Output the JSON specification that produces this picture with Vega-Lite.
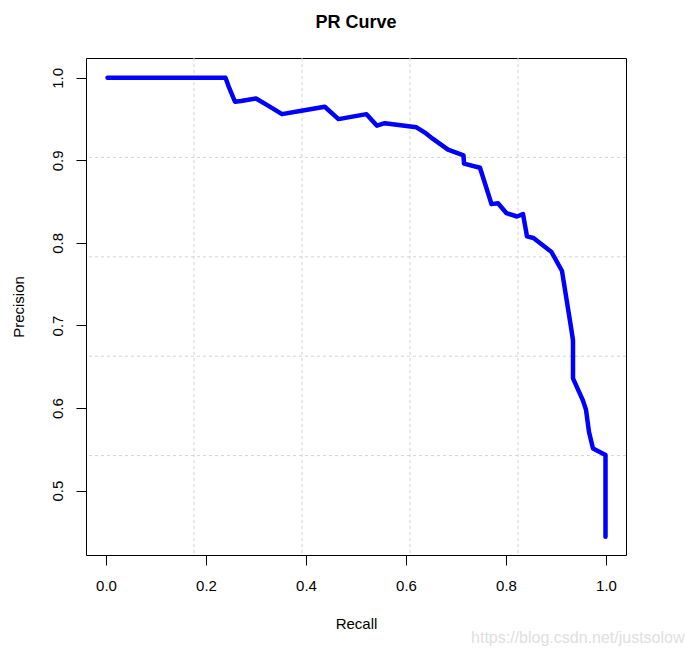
{
  "$schema": "https://vega.github.io/schema/vega-lite/v6.json",
  "autosize": {"type": "none"},
  "padding": {"left": 86, "top": 58, "right": 67, "bottom": 101},
  "width": 540,
  "height": 497,
  "background": "white",
  "title": {
    "text": "PR Curve",
    "font": "Liberation Sans",
    "fontSize": 18,
    "fontWeight": "bold",
    "color": "black",
    "anchor": "middle",
    "baseline": "alphabetic",
    "offset": 12
  },
  "config": {
    "view": {"stroke": "black", "strokeWidth": 1},
    "axis": {
      "grid": false,
      "domain": false,
      "ticks": true,
      "tickColor": "black",
      "tickSize": 10,
      "tickWidth": 1,
      "labelFont": "Liberation Sans",
      "labelFontSize": 15,
      "labelColor": "black",
      "titleFont": "Liberation Sans",
      "titleFontSize": 15,
      "titleFontWeight": "normal",
      "titleColor": "black"
    }
  },
  "layer": [
    {
      "data": {"values": [{"recall": 0.176}, {"recall": 0.392}, {"recall": 0.608}, {"recall": 0.824}]},
      "mark": {"type": "rule", "color": "#d3d3d3", "strokeWidth": 1, "strokeDash": [3, 3]},
      "encoding": {
        "x": {"field": "recall", "type": "quantitative", "scale": {"domain": [-0.04, 1.04], "nice": false, "zero": false}, "title": "Recall"}
      }
    },
    {
      "data": {"values": [{"precision": 0.5424}, {"precision": 0.6628}, {"precision": 0.7832}, {"precision": 0.9036}]},
      "mark": {"type": "rule", "color": "#d3d3d3", "strokeWidth": 1, "strokeDash": [3, 3]},
      "encoding": {
        "y": {"field": "precision", "type": "quantitative", "scale": {"domain": [0.422, 1.024], "nice": false, "zero": false}, "title": "Precision"}
      }
    },
    {
      "data": {"values": [
        {"i": 1, "recall": 0.003, "precision": 1.000},
        {"i": 2, "recall": 0.239, "precision": 1.000},
        {"i": 3, "recall": 0.245, "precision": 0.990},
        {"i": 4, "recall": 0.258, "precision": 0.971},
        {"i": 5, "recall": 0.270, "precision": 0.972},
        {"i": 6, "recall": 0.300, "precision": 0.975},
        {"i": 7, "recall": 0.325, "precision": 0.966},
        {"i": 8, "recall": 0.352, "precision": 0.956},
        {"i": 9, "recall": 0.391, "precision": 0.960},
        {"i": 10, "recall": 0.4375, "precision": 0.965},
        {"i": 11, "recall": 0.465, "precision": 0.950},
        {"i": 12, "recall": 0.521, "precision": 0.956},
        {"i": 13, "recall": 0.542, "precision": 0.942},
        {"i": 14, "recall": 0.5575, "precision": 0.945},
        {"i": 15, "recall": 0.621, "precision": 0.940},
        {"i": 16, "recall": 0.637, "precision": 0.934},
        {"i": 17, "recall": 0.654, "precision": 0.926},
        {"i": 18, "recall": 0.684, "precision": 0.913},
        {"i": 19, "recall": 0.715, "precision": 0.906},
        {"i": 20, "recall": 0.716, "precision": 0.896},
        {"i": 21, "recall": 0.748, "precision": 0.891},
        {"i": 22, "recall": 0.771, "precision": 0.847},
        {"i": 23, "recall": 0.784, "precision": 0.848},
        {"i": 24, "recall": 0.801, "precision": 0.836},
        {"i": 25, "recall": 0.822, "precision": 0.832},
        {"i": 26, "recall": 0.834, "precision": 0.835},
        {"i": 27, "recall": 0.842, "precision": 0.808},
        {"i": 28, "recall": 0.855, "precision": 0.806},
        {"i": 29, "recall": 0.891, "precision": 0.789},
        {"i": 30, "recall": 0.912, "precision": 0.766},
        {"i": 31, "recall": 0.931, "precision": 0.694},
        {"i": 32, "recall": 0.934, "precision": 0.682},
        {"i": 33, "recall": 0.934, "precision": 0.636},
        {"i": 34, "recall": 0.954, "precision": 0.609},
        {"i": 35, "recall": 0.960, "precision": 0.598},
        {"i": 36, "recall": 0.966, "precision": 0.571},
        {"i": 37, "recall": 0.974, "precision": 0.551},
        {"i": 38, "recall": 0.999, "precision": 0.543},
        {"i": 39, "recall": 0.999, "precision": 0.444}
      ]},
      "mark": {"type": "line", "color": "#0000ff", "strokeWidth": 4.5, "strokeCap": "round", "strokeJoin": "round"},
      "encoding": {
        "x": {
          "field": "recall", "type": "quantitative",
          "scale": {"domain": [-0.04, 1.04], "nice": false, "zero": false},
          "title": "Recall",
          "axis": {
            "values": [0, 0.2, 0.4, 0.6, 0.8, 1.0],
            "format": ".1f",
            "labelPadding": 13,
            "labelBaseline": "top",
            "titleX": 270,
            "titleY": 68,
            "titleBaseline": "middle"
          }
        },
        "y": {
          "field": "precision", "type": "quantitative",
          "scale": {"domain": [0.422, 1.024], "nice": false, "zero": false},
          "title": "Precision",
          "axis": {
            "values": [0.5, 0.6, 0.7, 0.8, 0.9, 1.0],
            "format": ".1f",
            "labelAngle": -90,
            "labelAlign": "center",
            "labelBaseline": "alphabetic",
            "labelPadding": 14,
            "titleX": -68,
            "titleY": 248.5,
            "titleBaseline": "middle"
          }
        },
        "order": {"field": "i", "type": "quantitative"}
      }
    },
    {
      "data": {"values": [{"label": "https://blog.csdn.net/justsolow"}]},
      "mark": {"type": "text", "font": "Liberation Sans", "fontSize": 16, "color": "#e0e0e0", "align": "right", "baseline": "middle"},
      "encoding": {
        "x": {"datum": 1.157, "type": "quantitative"},
        "y": {"datum": 0.321, "type": "quantitative"},
        "text": {"field": "label", "type": "nominal"}
      }
    }
  ]
}
